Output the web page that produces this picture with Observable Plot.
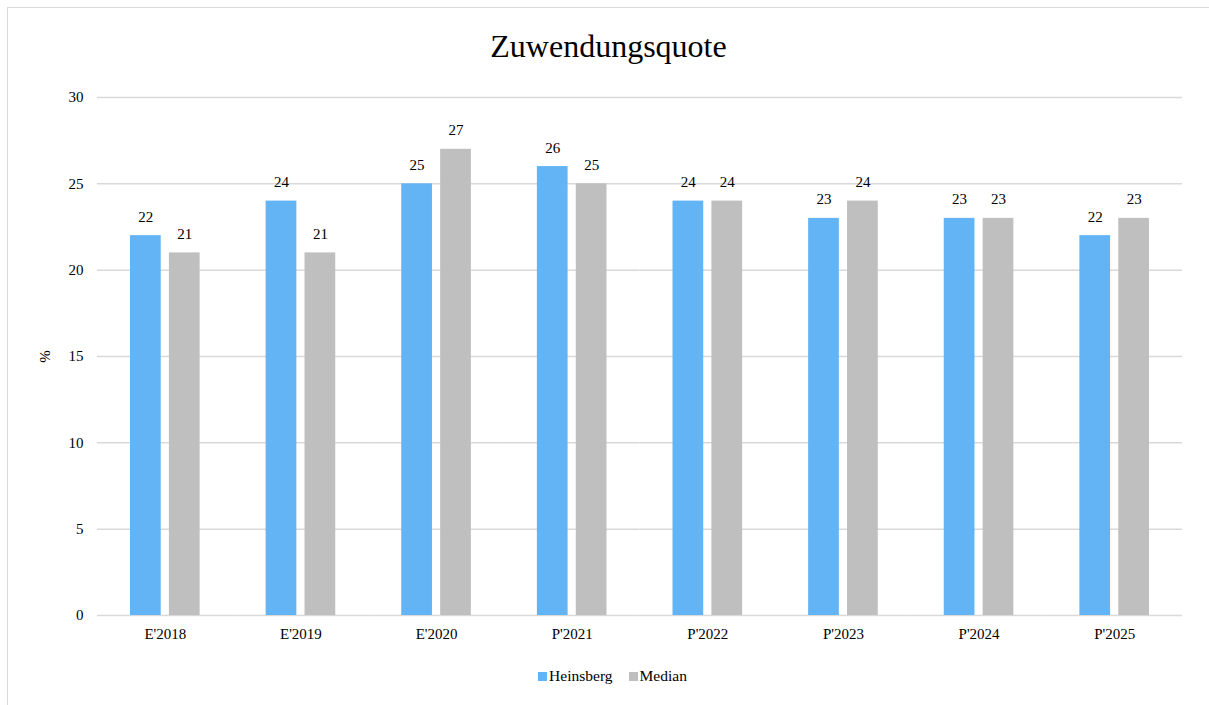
<!DOCTYPE html>
<html><head><meta charset="utf-8">
<script src="https://cdn.jsdelivr.net/npm/d3@7"></script>
<script src="https://cdn.jsdelivr.net/npm/@observablehq/plot@0.6"></script>
<style>
body{margin:0;background:#fff;color:#000;font-family:'Liberation Serif',serif;}
#wrap{position:relative;width:1209px;height:705px;overflow:hidden;}
#frame{position:absolute;left:7px;top:7px;width:1230px;height:730px;border:1px solid #d9d9d9;}
#title{position:absolute;top:0;left:0;width:1217px;text-align:center;font-size:32px;line-height:1;padding-top:30px;}
#chart{position:absolute;top:80px;left:0;}
#legend{position:absolute;top:666px;left:8px;width:1209px;display:flex;justify-content:center;align-items:center;font-size:15.5px;line-height:20px;}
#legend .item{display:flex;align-items:center;margin:0 8px;}
#legend .sw{width:9px;height:9px;margin-right:2px;}
</style></head>
<body>
<div id="wrap">
  <div id="frame"></div>
  <div id="title">Zuwendungsquote</div>
  <div id="chart"></div>
  <div id="legend"></div>
</div>
<script>
const categories = ["E'2018","E'2019","E'2020","P'2021","P'2022","P'2023","P'2024","P'2025"];
const series = ["Heinsberg","Median"];
const heinsberg = [22,24,25,26,24,23,23,22];
const median = [21,21,27,25,24,24,23,23];
const yTicks = [0,5,10,15,20,25,30];
const colors = ["#63B4F5","#BFBFBF"];

const data = categories.flatMap((c,i)=>[
  {cat:c, series:series[0], value:heinsberg[i]},
  {cat:c, series:series[1], value:median[i]}
]);

const chart = Plot.plot({
  width:1209, height:580,
  marginTop:17, marginLeft:97, marginRight:27, marginBottom:45,
  style:{fontFamily:"'Liberation Serif', serif", fontSize:"15px", color:"#000", background:"transparent", overflow:"visible"},
  fx:{domain:categories, padding:0, round:false, label:null, axis:"bottom", tickSize:0, tickPadding:13},
  x:{domain:series, axis:null, round:false, insetLeft:33, insetRight:33, paddingInner:0.21, paddingOuter:0},
  y:{domain:[0,30], ticks:yTicks, tickSize:0, tickPadding:14, label:"%", labelAnchor:"center", labelOffset:58, labelArrow:"none"},
  color:{domain:series, range:colors},
  marks:[
    Plot.ruleY(yTicks, {stroke:"#d9d9d9", strokeWidth:1.5}),
    Plot.barY(data, {fx:"cat", x:"series", y:"value", fill:"series"}),
    Plot.text(data, {fx:"cat", x:"series", y:"value", text:"value", dy:-14, lineAnchor:"bottom", fill:"#000", fontSize:15})
  ]
});
document.getElementById("chart").appendChild(chart);

const legend = document.getElementById("legend");
series.forEach((s,i)=>{
  const item = document.createElement("div");
  item.className = "item";
  const sw = document.createElement("span");
  sw.className = "sw";
  sw.style.background = colors[i];
  const lab = document.createElement("span");
  lab.textContent = s;
  item.appendChild(sw); item.appendChild(lab);
  legend.appendChild(item);
});
</script>
</body></html>
